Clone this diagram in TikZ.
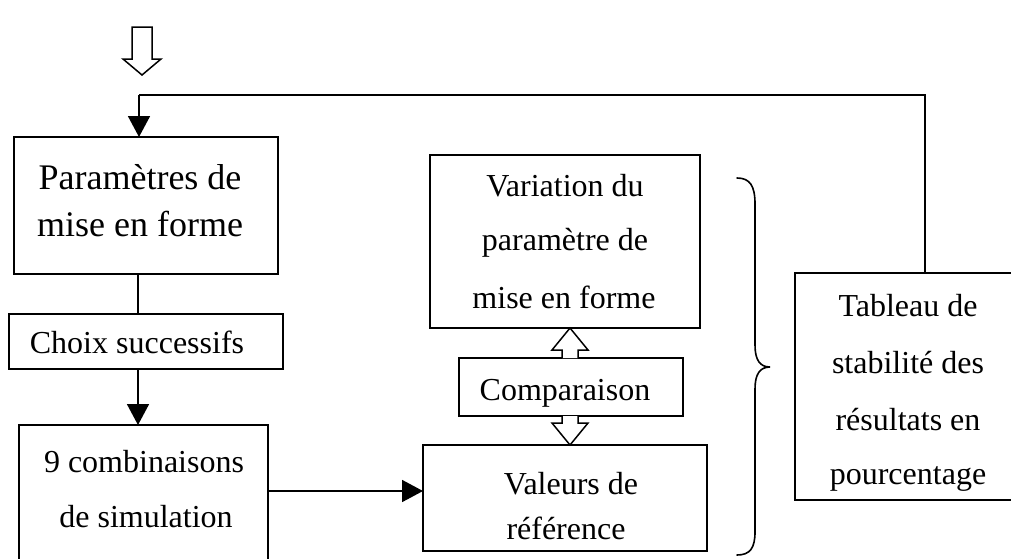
\documentclass[tikz,border=0pt]{standalone}
\usepackage{fontspec}
\setmainfont{Liberation Serif}
\usetikzlibrary{arrows.meta,calc}
\begin{document}
\begin{tikzpicture}[x=1pt,y=-1pt,
  box/.style={draw,line width=1.7pt,outer sep=0pt,inner sep=0pt,anchor=north west},
  txt/.style={anchor=base,inner sep=0pt,font=\fontsize{32}{38}\selectfont},
  bigtxt/.style={anchor=base,inner sep=0pt,font=\fontsize{36}{42}\selectfont},
  conn/.style={line width=1.7pt},
  arr/.style={line width=1.7pt,-{Triangle[width=22pt,length=21pt]}},
  hollow/.style={draw,line width=1.5pt,line join=miter,fill=white}]
\useasboundingbox (0,0) rectangle (1011,558);
\clip (0,0) rectangle (1011,558);

% boxes
\node[box,minimum width=264pt,minimum height=137pt] (p1) at (14,137) {};
\node[box,minimum width=274pt,minimum height=55pt] (choix) at (9,314) {};
\node[box,minimum width=249pt,minimum height=160pt] (comb) at (19,425) {};
\node[box,minimum width=270pt,minimum height=173pt] (var) at (430,155) {};
\node[box,minimum width=224pt,minimum height=58pt] (comp) at (459,358) {};
\node[box,minimum width=284pt,minimum height=106pt] (val) at (423,445) {};
\node[box,minimum width=260pt,minimum height=227pt] (tab) at (795,273) {};

% texts
\node[bigtxt] (p1a) at (140,189) {Paramètres de};
\node[bigtxt] (p1b) at (140,236) {mise en forme};
\node[txt] (choixt) at (137,353) {Choix successifs};
\node[txt] (comba) at (144,472) {9 combinaisons};
\node[txt] (combb) at (146,527) {de simulation};
\node[txt] (vara) at (565,196) {Variation du};
\node[txt] (varb) at (565,250) {paramètre de};
\node[txt] (varc) at (564,308) {mise en forme};
\node[txt] (compt) at (565,400) {Comparaison};
\node[txt] (vala) at (571,494) {Valeurs de};
\node[txt] (valb) at (566,539) {référence};
\node[txt] (taba) at (908,316) {Tableau de};
\node[txt] (tabb) at (908,373) {stabilité des};
\node[txt] (tabc) at (908,430) {résultats en};
\node[txt] (tabd) at (908,484) {pourcentage};

% top hollow arrow
\draw[hollow] (132,27) -- (132,59) -- (123,59) -- (142,75) -- (161,59) -- (152,59) -- (152,27) -- cycle;

% feedback loop
\coordinate (fbR) at (925,95);
\coordinate (fbL) at (139,95);
\draw[conn] (tab.north -| fbR) -- (fbR) -- (fbL);
\draw[arr] (fbL) -- (fbL |- p1.north);

% left column connectors
\coordinate (colx) at (138,0);
\draw[conn] (colx |- p1.south) -- (colx |- choix.north);
\draw[arr] (colx |- choix.south) -- (colx |- comb.north);
\coordinate (rowy) at (0,491);
\draw[arr] (rowy -| comb.east) -- (rowy -| val.west);

% comparison hollow arrows
\draw[hollow] (562,358) -- (562,350) -- (552,350) -- (570,328) -- (588,350) -- (578,350) -- (578,358);
\draw[hollow] (562,416) -- (562,423) -- (552,423) -- (570,445) -- (588,423) -- (578,423) -- (578,416);

% brace
\draw[line width=1.6pt,line cap=round]
  (737,178) .. controls (750,178) and (755,186) .. (755,204)
  -- (755,345) .. controls (755,360) and (760,367) .. (770,367)
  .. controls (760,367) and (755,374) .. (755,389)
  -- (755,532) .. controls (755,548) and (750,555) .. (737,555);
\end{tikzpicture}
\end{document}
